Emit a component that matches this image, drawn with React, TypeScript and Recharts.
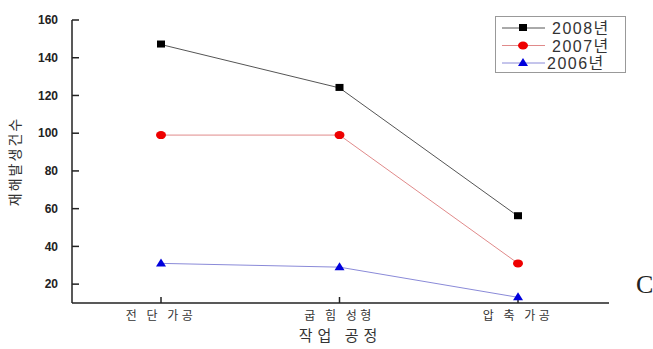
import { LineChart, Line, XAxis, YAxis, Label } from 'recharts';

const processes = ['전 단 가공', '굽 힘 성형', '압 축 가공'];
const y2008 = [147, 124, 56];
const y2007 = [99, 99, 31];
const y2006 = [31, 29, 13];
const yTicks = [20, 40, 60, 80, 100, 120, 140, 160];

const seriesInfo = [
  { key: '2008년', line: '#555555', mark: '#000000', shape: 'square' },
  { key: '2007년', line: '#e08a8a', mark: '#ee0000', shape: 'circle' },
  { key: '2006년', line: '#8a8ad8', mark: '#0000dd', shape: 'triangle' },
];

const data = processes.map((p, i) => ({
  process: p,
  '2008년': y2008[i],
  '2007년': y2007[i],
  '2006년': y2006[i],
}));

function Marker({ cx, cy, shape, color }: any) {
  if (cx == null || cy == null) return null;
  if (shape === 'square') return <rect x={cx - 4} y={cy - 4} width={8} height={7} fill={color} />;
  if (shape === 'circle') return <ellipse cx={cx} cy={cy} rx={5} ry={4} fill={color} />;
  return <polygon points={`${cx},${cy - 5} ${cx - 5},${cy + 3} ${cx + 5},${cy + 3}`} fill={color} />;
}

// legend drawn as an overlay so it doesn't eat plot space
function LegendBox() {
  return (
    <svg width={132} height={58} style={{ position: 'absolute', left: 495, top: 16 }}>
      <rect x={0.5} y={0.5} width={130} height={56} fill="#fff" stroke="#999" />
      {seriesInfo.map((s, i) => {
        const y = 12 + i * 17.5;
        return (
          <g key={s.key}>
            <line x1={7} x2={50} y1={y} y2={y} stroke={s.line} strokeWidth={1} />
            <Marker cx={28} cy={y} shape={s.shape} color={s.mark} />
            <text
              x={i === 2 ? 52 : 57}
              y={y + 6}
              fontSize={16}
              letterSpacing={1.5}
              fill="#333"
              fontFamily="'Liberation Sans', 'Noto Sans CJK KR', sans-serif"
            >
              {s.key}
            </text>
          </g>
        );
      })}
    </svg>
  );
}

export default function App() {
  return (
    <div style={{ position: 'absolute', left: 0, top: 0, width: 653, height: 349, background: '#fff' }}>
      <LineChart width={653} height={349} data={data} margin={{ top: 20, right: 44, left: 22, bottom: 16 }}>
        <XAxis
          dataKey="process"
          padding={{ left: 89, right: 91 }}
          height={30}
          stroke="#222"
          strokeWidth={1.5}
          tickSize={-6}
          tickMargin={14}
          tick={{ fontSize: 12, fill: '#333', letterSpacing: 3.5, fontFamily: "'Noto Sans CJK KR', sans-serif" }}
        >
          <Label
            value="작업 공정"
            position="insideBottom"
            offset={-8}
            style={{ fontSize: 15, fill: '#333', letterSpacing: 5, fontFamily: "'Noto Sans CJK KR', sans-serif" }}
          />
        </XAxis>
        <YAxis
          domain={[10, 160]}
          ticks={yTicks}
          width={50}
          stroke="#222"
          strokeWidth={1.5}
          tickSize={-7}
          tickMargin={21}
          tick={{ fontSize: 12, fill: '#222', fontWeight: 'bold', fontFamily: "'Liberation Sans', Arial, sans-serif" }}
        >
          <Label
            value="재해발생건수"
            angle={-90}
            position="center"
            dx={-32}
            style={{ fontSize: 14, fill: '#333', letterSpacing: 2, fontFamily: "'Noto Sans CJK KR', sans-serif" }}
          />
        </YAxis>
        {seriesInfo.map((s) => (
          <Line
            key={s.key}
            type="linear"
            dataKey={s.key}
            stroke={s.line}
            strokeWidth={1}
            isAnimationActive={false}
            dot={(p: any) => <Marker key={`${s.key}-${p.index}`} cx={p.cx} cy={p.cy} shape={s.shape} color={s.mark} />}
            activeDot={false}
          />
        ))}
      </LineChart>
      <LegendBox />
      <span style={{ position: 'absolute', left: 636, top: 270, fontSize: 26, fontFamily: "'Liberation Serif', serif", color: '#222' }}>
        C
      </span>
    </div>
  );
}
